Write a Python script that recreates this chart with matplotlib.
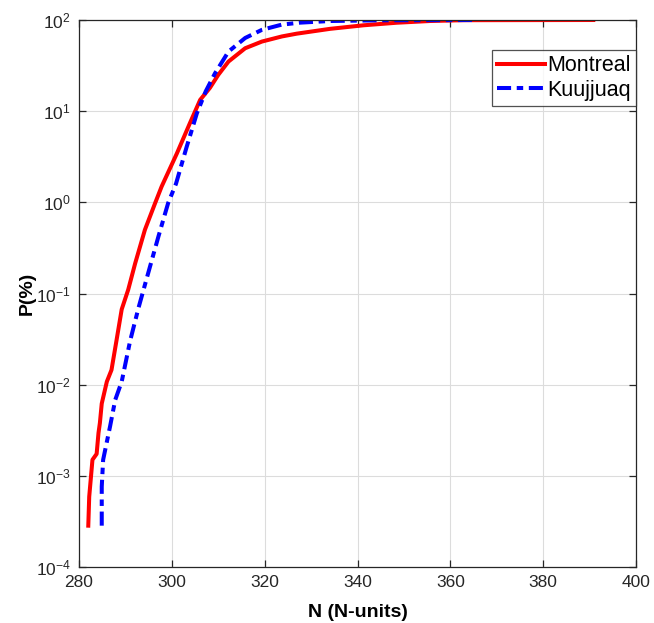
import math
import matplotlib
matplotlib.use("Agg")
import matplotlib.pyplot as plt
from matplotlib.ticker import FixedLocator, FuncFormatter, NullLocator

plt.rcParams['font.family'] = ['Liberation Sans', 'DejaVu Sans']
plt.rcParams['mathtext.fontset'] = 'custom'
plt.rcParams['mathtext.rm'] = 'Liberation Sans'
plt.rcParams['mathtext.it'] = 'Liberation Sans:italic'
plt.rcParams['mathtext.bf'] = 'Liberation Sans:bold'

# Montreal (N-units, P %)
montreal_n = [282.0, 282.2, 282.9, 283.8, 284.2, 284.5, 284.9, 286.0, 287.0, 288.1,
              289.2, 290.6, 292.1, 294.2, 296.4, 297.8, 301.1, 303.9, 306.1, 308.2,
              310.0, 312.2, 315.8, 319.4, 323.7, 326.9, 334.1, 341.3, 348.4, 355.6,
              362.8, 390.8]
montreal_p = [2.84e-4, 5.9e-4, 1.5e-3, 1.74e-3, 2.95e-3, 3.8e-3, 6.2e-3, 1.08e-2, 1.45e-2, 0.031,
              0.067, 0.11, 0.214, 0.50, 0.98, 1.49, 3.45, 7.4, 13.3, 18.0,
              25.0, 35.0, 49.0, 58.0, 66.0, 70.8, 80.0, 87.5, 93.3, 97.5,
              99.5, 100.0]

# Kuujjuaq
kuujjuaq_n = [284.9, 284.9, 285.2, 286.7, 287.8, 289.2, 291.0, 292.8, 294.9, 297.1,
              299.2, 300.9, 303.2, 305.4, 307.3, 309.3, 312.2, 315.8, 319.4, 323.7,
              327.6, 334.1, 345.0, 365.7]
kuujjuaq_p = [2.84e-4, 7.6e-4, 1.5e-3, 3.5e-3, 6.8e-3, 1.08e-2, 0.030, 0.069, 0.167, 0.42,
              0.98, 1.6, 4.07, 9.5, 16.5, 26.0, 45.0, 63.5, 78.0, 89.0,
              93.5, 97.5, 99.3, 100.0]

x_ticks = [280, 300, 320, 340, 360, 380, 400]
y_ticks = [1e-4, 1e-3, 1e-2, 1e-1, 1e0, 1e1, 1e2]

fig = plt.figure(figsize=(6.54, 6.23), dpi=100)
ax = fig.add_axes([79/654, 1-567/623, (636-79)/654, (567-20)/623])

ax.plot(montreal_n, montreal_p, color='#ff0000', lw=2.9, label='Montreal',
        solid_joinstyle='round')
ax.plot(kuujjuaq_n, kuujjuaq_p, color='#0000ff', lw=2.9, label='Kuujjuaq',
        dashes=(3.5, 1.4, 1.6, 1.4))

ax.set_yscale('log')
ax.set_xlim(280, 400)
ax.set_ylim(1e-4, 1e2)
ax.xaxis.set_major_locator(FixedLocator(x_ticks))
ax.yaxis.set_major_locator(FixedLocator(y_ticks))
ax.yaxis.set_minor_locator(NullLocator())
ax.yaxis.set_major_formatter(FuncFormatter(lambda v, p: r'$10^{%d}$' % round(math.log10(v))))

ax.grid(True, color='#dcdcdc', lw=0.8)
ax.set_axisbelow(True)
for s in ax.spines.values():
    s.set_color('#262626')
    s.set_linewidth(0.9)
ax.tick_params(which='both', direction='in', top=True, right=True, length=5,
               labelsize=12.5, color='#262626', labelcolor='#262626', width=0.9)
ax.tick_params(axis='y', pad=6)
ax.tick_params(axis='x', pad=6)
ax.set_xlabel('N (N-units)', fontsize=14, fontweight='bold', labelpad=10)
ax.set_ylabel('P(%)', fontsize=14, fontweight='bold', labelpad=0)

leg = ax.legend(loc='upper right', bbox_to_anchor=(1.0, (567-50)/547), borderaxespad=0,
                fontsize=15.5, frameon=True, fancybox=False, handlelength=2.2,
                handletextpad=0.1, borderpad=0.25, labelspacing=0.15)
leg.get_frame().set_edgecolor('#262626')
leg.get_frame().set_linewidth(0.9)

fig.savefig('out.png', dpi=100)
